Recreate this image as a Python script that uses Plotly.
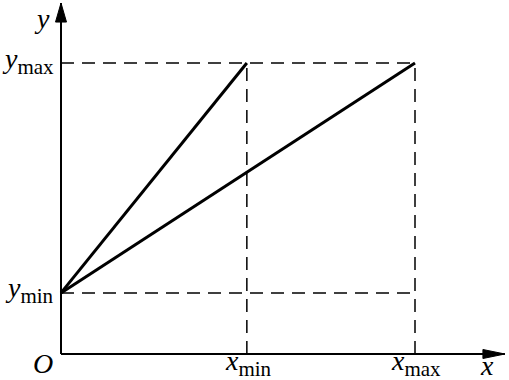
import plotly.graph_objects as go

# ---- data (abstract units: x_max = 1, y_max = 1) ----
X_MIN = 0.525
X_MAX = 1.0
Y_MIN = 0.21
Y_MAX = 1.0
X_END = 1.254   # tip of x-axis arrow
Y_END = 1.206   # tip of y-axis arrow

solid_x = [[0, X_MIN], [0, X_MAX]]
solid_y = [[Y_MIN, Y_MAX], [Y_MIN, Y_MAX]]

dash_x = [[0, X_MAX], [0, X_MAX], [X_MIN, X_MIN], [X_MAX, X_MAX]]
dash_y = [[Y_MAX, Y_MAX], [Y_MIN, Y_MIN], [0, Y_MAX], [0, Y_MAX]]

SUB = '<sub><span style="font-size:21px">{}</span></sub>'

# tick-like labels
labels = [
    dict(text="<i>y</i>" + SUB.format("max"), x=0, y=Y_MAX, xanchor="right", yanchor="middle", xshift=-5, yshift=2),
    dict(text="<i>y</i>" + SUB.format("min"), x=0, y=Y_MIN, xanchor="right", yanchor="middle", xshift=-5, yshift=3),
    dict(text="<i>x</i>" + SUB.format("min"), x=X_MIN, y=0, xanchor="center", yanchor="middle", xshift=2, yshift=-9),
    dict(text="<i>x</i>" + SUB.format("max"), x=X_MAX, y=0, xanchor="center", yanchor="middle", xshift=1, yshift=-9),
    dict(text="<i>O</i>", x=0, y=0, xanchor="center", yanchor="middle", xshift=-18, yshift=-9),
    dict(text="<i>x</i>", x=X_END, y=0, xanchor="center", yanchor="middle", xshift=-18, yshift=-11),
    dict(text="<i>y</i>", x=0, y=Y_END, xanchor="center", yanchor="middle", xshift=-19, yshift=-15),
]

FONT = "Liberation Serif"

fig = go.Figure()

# axes
fig.add_trace(go.Scatter(x=[0, X_END], y=[0, 0], mode="lines",
                         line=dict(color="black", width=2), hoverinfo="skip"))
fig.add_trace(go.Scatter(x=[0, 0], y=[0, Y_END], mode="lines",
                         line=dict(color="black", width=2), hoverinfo="skip"))

# dashed guides
for xs, ys in zip(dash_x, dash_y):
    fig.add_trace(go.Scatter(x=xs, y=ys, mode="lines",
                             line=dict(color="black", width=1.5, dash="13px,8px"),
                             hoverinfo="skip"))

# solid lines
for xs, ys in zip(solid_x, solid_y):
    fig.add_trace(go.Scatter(x=xs, y=ys, mode="lines",
                             line=dict(color="black", width=3), hoverinfo="skip"))

# arrow heads (pixel-sized, anchored at axis ends)
fig.add_shape(type="path", xref="x", yref="y", xsizemode="pixel", ysizemode="pixel",
              xanchor=0, yanchor=Y_END, path="M0,0 L-5.5,-19 L5.5,-19 Z",
              fillcolor="black", line=dict(color="black", width=1))
fig.add_shape(type="path", xref="x", yref="y", xsizemode="pixel", ysizemode="pixel",
              xanchor=X_END, yanchor=0, path="M0,0 L-22,4.5 L-22,-4.5 Z",
              fillcolor="black", line=dict(color="black", width=1))

for lab in labels:
    fig.add_annotation(showarrow=False, xref="x", yref="y",
                       font=dict(family=FONT, size=28, color="black"), **lab)

fig.update_layout(
    width=509, height=380,
    margin=dict(l=0, r=0, t=0, b=0, pad=0),
    paper_bgcolor="white", plot_bgcolor="white",
    showlegend=False,
    xaxis=dict(range=[-61 / 354, 448 / 354], visible=False, fixedrange=True),
    yaxis=dict(range=[-26 / 291, 354 / 291], visible=False, fixedrange=True),
)

fig.write_html("out.html", config={"displayModeBar": False},
               post_script="document.body.style.margin='0';document.body.style.overflow='hidden';")
